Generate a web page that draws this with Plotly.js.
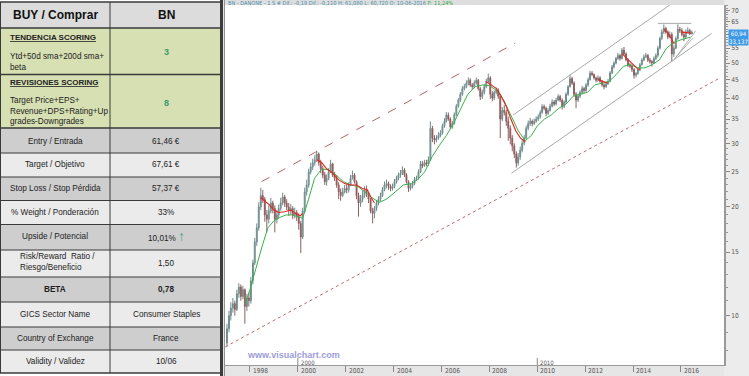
<!DOCTYPE html>
<html><head><meta charset="utf-8">
<script src="https://cdn.plot.ly/plotly-3.0.1.min.js"></script>
<style>html,body{margin:0;padding:0;overflow:hidden;background:#fff}#chart{width:749px;height:376px}</style>
</head><body><div id="chart"></div>
<script>
// ---------------- DATA (monthly candles) ----------------
const startYear = 1997;
const open = [
 8.4,9.2,10.0,10.5,10.8,10.4,11.5,12.0,11.3,11.8,10.6,11.2,
 11.0,12.5,14.0,16.0,17.5,20.0,21.5,21.0,19.0,18.5,19.5,20.5,
 19.8,18.5,19.0,19.8,20.5,21.3,20.5,20.0,19.5,19.8,19.0,19.3,
 18.8,18.0,16.5,19.5,22.0,23.0,25.0,25.8,26.5,27.0,28.0,26.5,
 25.5,24.5,23.5,24.0,25.0,26.3,24.5,24.0,23.0,22.0,21.5,22.0,
 22.5,22.3,23.0,24.0,24.5,23.5,21.5,20.5,21.0,21.5,22.3,21.8,
 21.0,19.5,19.2,19.8,20.5,21.0,21.5,22.3,23.0,23.2,22.8,22.5,
 22.8,23.5,24.0,24.5,24.8,25.3,24.5,23.5,22.5,22.8,23.2,23.8,
 24.0,25.0,26.3,26.0,26.5,26.3,27.0,33.0,31.0,30.6,31.0,31.5,
 32.0,33.5,34.5,35.9,35.0,33.3,34.0,36.0,38.0,39.5,41.0,42.5,
 43.0,44.0,44.8,43.5,43.0,44.0,44.8,42.5,40.4,41.5,43.0,44.5,
 45.5,41.0,40.0,41.5,42.0,40.5,35.0,37.0,36.5,34.5,33.0,31.0,
 29.5,28.0,26.5,27.5,28.7,30.0,31.0,33.0,34.0,34.5,34.0,34.5,
 35.0,35.5,36.5,37.9,37.5,36.3,37.0,38.0,39.0,38.5,39.5,40.4,
 39.5,37.9,39.0,41.0,43.0,45.3,44.0,41.0,39.5,40.5,41.5,42.5,
 42.0,43.5,45.0,46.9,46.5,45.5,44.8,45.5,44.5,43.5,43.0,43.8,
 44.5,47.0,48.8,50.0,51.5,52.5,51.5,54.3,53.0,51.0,49.4,49.0,
 48.0,46.3,46.8,47.9,49.5,51.0,52.0,52.5,51.0,50.5,50.0,51.5,
 52.5,55.0,58.5,61.0,62.4,61.0,59.0,60.0,53.0,55.0,58.5,62.0,
 61.5,60.0,59.0,61.0,61.5,60.2];
const high = [
 9.5,10.3,10.9,11.2,11.0,11.8,12.3,12.2,12.1,11.9,11.5,11.6,
 12.8,14.3,16.4,18.0,20.6,22.6,22.3,21.3,19.6,20.2,21.2,20.8,
 20.2,19.6,20.3,21.2,21.9,21.6,21.0,20.5,20.4,20.1,19.9,19.6,
 19.2,18.3,19.9,22.6,23.8,25.5,26.5,27.2,27.8,28.6,28.3,27.0,
 26.0,25.0,24.6,25.6,27.0,26.5,25.0,24.5,23.4,22.5,22.6,23.0,
 23.1,23.4,24.5,25.2,24.8,23.7,21.9,21.6,22.2,22.8,22.9,22.0,
 21.2,19.9,20.1,20.8,21.4,21.9,22.7,23.5,23.8,23.5,23.1,23.2,
 23.9,24.4,24.9,25.3,25.9,25.6,24.8,23.7,23.2,23.6,24.2,24.4,
 25.4,26.8,26.8,27.0,27.0,27.6,34.5,33.5,31.6,31.6,32.2,32.6,
 34.0,35.2,36.6,36.5,35.4,34.6,36.5,38.5,40.0,41.6,43.2,43.8,
 44.8,45.6,45.4,44.0,44.8,45.6,45.2,43.0,42.2,43.8,45.2,46.8,
 46.0,41.8,42.0,42.8,42.6,41.0,37.8,38.2,37.2,35.5,33.6,31.6,
 30.0,28.5,28.2,29.4,30.6,31.6,33.6,34.7,35.3,34.9,35.1,35.6,
 36.1,37.0,38.5,38.4,37.9,37.5,38.6,39.7,39.5,40.1,41.0,40.8,
 39.9,39.4,41.5,43.5,46.5,45.8,44.5,41.6,41.2,42.0,43.2,43.0,
 44.0,45.6,47.6,47.5,46.8,45.9,46.2,46.0,44.9,44.0,44.4,45.2,
 47.5,49.4,50.6,52.0,53.4,53.0,55.0,55.4,53.6,51.5,50.0,49.5,
 48.4,47.2,48.4,50.0,51.6,52.8,53.4,53.0,51.7,51.0,52.1,53.2,
 55.8,59.2,62.0,64.0,63.0,61.6,61.2,60.8,56.0,59.2,64.0,63.0,
 62.5,61.0,62.0,62.8,62.2,61.5];
const low = [
 8.2,9.0,9.7,10.2,10.0,10.3,11.2,11.0,11.1,9.5,10.3,10.6,
 10.8,12.2,13.8,15.6,17.2,19.6,20.5,18.2,17.0,18.0,19.2,19.2,
 17.0,18.0,18.6,19.5,20.2,20.0,19.6,18.9,19.0,18.5,18.6,18.3,
 17.3,14.9,16.3,19.2,21.5,22.6,24.6,25.3,26.0,26.6,26.0,24.8,
 24.0,23.0,22.9,23.7,24.8,24.2,23.6,22.6,21.0,20.8,21.3,21.8,
 21.8,21.9,22.8,23.8,23.2,21.0,18.8,20.0,20.6,21.2,21.3,20.5,
 19.2,18.0,18.6,19.5,20.2,20.7,21.3,22.1,22.5,22.3,22.1,22.2,
 22.5,23.2,23.7,24.1,24.5,24.2,23.2,22.0,22.2,22.5,23.0,23.6,
 23.8,24.8,25.6,25.8,25.9,26.0,26.8,30.2,29.8,30.2,30.7,31.2,
 31.7,33.1,34.2,34.6,32.8,32.9,33.8,35.7,37.6,39.0,40.6,42.0,
 42.6,43.4,43.0,42.2,42.6,43.6,42.0,39.5,39.8,41.0,42.6,44.0,
 39.8,39.2,39.5,41.0,39.8,31.0,34.5,35.8,33.5,30.5,29.8,28.5,
 27.3,25.7,26.0,27.0,28.3,29.6,30.7,32.6,33.5,33.4,33.7,34.2,
 34.6,35.1,36.2,37.0,35.6,35.9,36.7,37.7,38.0,38.2,39.2,39.0,
 37.2,37.5,38.6,40.6,42.8,43.5,40.4,37.5,39.0,40.0,41.0,41.3,
 41.6,43.0,44.7,46.0,45.0,44.2,44.4,44.1,43.0,42.3,42.7,43.5,
 44.2,46.6,48.3,49.6,51.0,50.8,51.2,52.5,50.6,48.8,48.4,47.2,
 45.3,45.6,46.4,47.6,49.2,50.6,51.6,50.3,49.8,48.9,49.7,51.0,
 51.8,54.5,58.0,60.2,60.3,58.2,58.5,50.5,52.0,54.6,58.0,60.6,
 59.3,57.5,58.6,60.4,59.8,60.1];
const close = [
 9.2,10.0,10.5,10.8,10.4,11.5,12.0,11.3,11.8,10.6,11.2,11.0,
 12.5,14.0,16.0,17.5,20.0,21.5,21.0,19.0,18.5,19.5,20.5,19.8,
 18.5,19.0,19.8,20.5,21.3,20.5,20.0,19.5,19.8,19.0,19.3,18.8,
 18.0,16.5,19.5,22.0,23.0,25.0,25.8,26.5,27.0,28.0,26.5,25.5,
 24.5,23.5,24.0,25.0,26.3,24.5,24.0,23.0,22.0,21.5,22.0,22.5,
 22.3,23.0,24.0,24.5,23.5,21.5,20.5,21.0,21.5,22.3,21.8,21.0,
 19.5,19.2,19.8,20.5,21.0,21.5,22.3,23.0,23.2,22.8,22.5,22.8,
 23.5,24.0,24.5,24.8,25.3,24.5,23.5,22.5,22.8,23.2,23.8,24.0,
 25.0,26.3,26.0,26.5,26.3,27.0,33.0,31.0,30.6,31.0,31.5,32.0,
 33.5,34.5,35.9,35.0,33.3,34.0,36.0,38.0,39.5,41.0,42.5,43.0,
 44.0,44.8,43.5,43.0,44.0,44.8,42.5,40.4,41.5,43.0,44.5,45.5,
 41.0,40.0,41.5,42.0,40.5,35.0,37.0,36.5,34.5,33.0,31.0,29.5,
 28.0,26.5,27.5,28.7,30.0,31.0,33.0,34.0,34.5,34.0,34.5,35.0,
 35.5,36.5,37.9,37.5,36.3,37.0,38.0,39.0,38.5,39.5,40.4,39.5,
 37.9,39.0,41.0,43.0,45.3,44.0,41.0,39.5,40.5,41.5,42.5,42.0,
 43.5,45.0,46.9,46.5,45.5,44.8,45.5,44.5,43.5,43.0,43.8,44.5,
 47.0,48.8,50.0,51.5,52.5,51.5,54.3,53.0,51.0,49.4,49.0,48.0,
 46.3,46.8,47.9,49.5,51.0,52.0,52.5,51.0,50.5,50.0,51.5,52.5,
 55.0,58.5,61.0,62.4,61.0,59.0,60.0,53.0,55.0,58.5,62.0,61.5,
 60.0,59.0,61.0,61.5,60.2,60.94];

// long moving average (green) – decimal years / values
const greenT = [1997.80,1998.00,1998.15,1998.30,1998.50,1998.75,1999.00,1999.25,1999.50,1999.75,2000.00,2000.20,2000.45,2000.70,2001.00,2001.30,2001.60,2001.90,2002.20,2002.50,2002.80,2003.10,2003.40,2003.70,2004.00,2004.40,2004.75,2005.00,2005.30,2005.60,2005.90,2006.20,2006.50,2006.80,2007.10,2007.40,2007.70,2008.00,2008.30,2008.60,2008.90,2009.20,2009.50,2009.75,2010.00,2010.30,2010.60,2010.90,2011.20,2011.50,2011.80,2012.10,2012.40,2012.70,2013.00,2013.30,2013.60,2013.90,2014.20,2014.50,2014.80,2015.10,2015.40,2015.70,2016.00,2016.40];
const greenV = [10.8,11.8,12.8,14.0,15.5,17.5,18.3,18.7,19.0,19.0,18.8,18.6,21.0,24.0,25.5,25.3,24.5,23.5,23.0,22.8,22.0,21.2,20.6,21.0,21.8,23.0,23.2,23.8,25.0,27.5,29.5,31.5,34.0,37.5,41.0,43.0,43.5,43.3,42.0,39.5,36.0,32.5,30.5,31.5,33.5,35.0,36.0,37.5,38.5,40.5,41.0,41.5,43.5,44.0,44.5,46.5,49.0,49.5,48.5,48.5,49.5,51.0,55.0,57.0,58.0,59.0];
// short moving average (red), visible segments only (null = gap)
const redT = [1998.45,1998.60,1998.80,1999.00,1999.20,1999.45,1999.70,1999.90,2000.10,2000.20,2000.5,
 2000.80,2001.00,2001.20,2001.45,2001.70,2001.95,2002.20,2002.45,2002.70,2002.90,2003.05,2003.20,2004,
 2007.85,2008.10,2008.30,2008.50,2008.70,2008.90,2009.10,2009.30,2009.50,2010,
 2012.55,2012.75,2012.95,2013.2,
 2013.55,2013.75,2013.95,2014.15,2014.30,2014.8,
 2015.30,2015.45,2015.60,2015.72,2015.85,
 2016.00,2016.20,2016.40];
const redV = [21.2,20.8,20.3,19.6,19.3,19.4,19.6,19.2,18.9,19.2,null,
 27.0,26.5,25.5,24.8,23.8,23.2,23.0,23.0,22.5,22.3,21.3,20.5,null,
 44.5,43.3,42.5,40.5,38.0,35.0,32.5,31.0,30.3,null,
 45.0,44.5,44.0,null,
 53.0,51.5,50.0,48.5,47.8,null,
 62.0,60.5,58.5,56.5,null,
 61.0,60.8,60.5];

// trend lines [startYear, endYear], [startPrice, endPrice]
const upperDashT = [1998.49, 2009.08], upperDashV = [23.5, 56.8];
const lowerDotT  = [1996.97, 2017.61], lowerDotV  = [8.2, 45.4];
const chanTopT   = [2008.99, 2015.55], chanTopV   = [35.9, 72.5];
const chanBotT   = [2008.93, 2017.28], chanBotV   = [24.8, 60.4];
const resistT    = [2015.04, 2016.44], resistV    = [64.4, 64.4];
const wedge1T    = [2015.70, 2016.62], wedge1V    = [51.0, 61.4];
const wedge2T    = [2015.78, 2016.50], wedge2V    = [51.8, 58.6];

const xTickYears = [1998,2000,2002,2004,2006,2008,2010,2012,2014,2016];
const xTickText  = ['1998','2000','2002','2004','2006','2008','2010','2012','2014','2016'];
const yTicks = [10,15,20,25,30,35,40,45,50,55,60,65,70];
const yTickText = ['10','15','20','25','30','35','40','45','50','55','','65','70'];
const lastLabel = ['60,94','33,137'];
const statusText = 'BN - DANONE - 1 S # Dif.: -0,18 Dif.: -0,110 H: 61,080 L: 60,720 O: 10-06-2016';
const statusPct = 'P: 11,24%';

const headerLabels = ['BUY / Comprar','BN'];
const scoringTitles = ['TENDENCIA SCORING','REVISIONES SCORING'];
const scoringTexts = ['Ytd+50d sma+200d sma+<br>beta','Target Price+EPS+<br>Revenue+DPS+Rating+Up<br>grades-Downgrades'];
const scoringValues = ['3','8'];
const rowLabels = ['Entry / Entrada','Target / Objetivo','Stop Loss / Stop Pérdida','% Weight / Ponderación','Upside / Potencial','Risk/Reward  Ratio /<br>Riesgo/Beneficio','BETA','GICS Sector Name','Country of Exchange','Validity / Validez'];
const rowValues = ['61,46 €','67,61 €','57,37 €','33%','10,01%','1,50','0,78','Consumer Staples','France','10/06'];

// ---------------- helpers ----------------
const W = 749, H = 376;
const FONT = 'Liberation Sans, Arial, sans-serif';
const NARROW = 'Liberation Sans Narrow, DejaVu Sans Condensed, sans-serif';
const P = x => x / W, Q = y => 1 - y / H;
function dy(t){ const y=Math.floor(t); const ms=Date.UTC(y,0,1)+(t-y)*365.25*86400000; return new Date(ms).toISOString().slice(0,10); }
const months = close.map((_,i)=>{ const y=startYear+Math.floor(i/12), m=i%12+1; return y+'-'+String(m).padStart(2,'0')+'-15'; });

const shapes = [], anns = [];
function rect(x0,y0,x1,y1,fill,layer){ shapes.push({type:'rect',xref:'paper',yref:'paper',x0:P(x0),x1:P(x1),y0:Q(y1),y1:Q(y0),fillcolor:fill,line:{width:0},layer:layer||'below'}); }
function line(x0,y0,x1,y1,color,w){ shapes.push({type:'line',xref:'paper',yref:'paper',x0:P(x0),x1:P(x1),y0:Q(y0),y1:Q(y1),line:{color:color,width:w||1},layer:'below'}); }
function txt(x,y,text,o){ anns.push(Object.assign({xref:'paper',yref:'paper',x:P(x),y:Q(y),text:text,showarrow:false,xanchor:'center',yanchor:'middle',align:'center',font:{family:FONT,size:8.2,color:'#222'}},o||{})); }

// ---------------- table ----------------
const rowB = [2,28,74.5,128,153,177,200.5,224.5,250,277,302,327,350,373];
const rowFill = ['#dcdcdc','#d7e0b3','#d7e0b3','#cecece','#ebebeb','#cecece','#ebebeb','#cecece','#ebebeb','#cecece','#ebebeb','#cecece','#ebebeb'];
for (let i=0;i<rowFill.length;i++) rect(0,rowB[i],221,rowB[i+1],rowFill[i]);
for (let i=0;i<rowB.length;i++) line(0,rowB[i],221,rowB[i],'#3a3a3a',(i<=3||i==rowB.length-1)?1.4:1);
line(0.5,rowB[0],0.5,rowB[rowB.length-1],'#3a3a3a',1);
line(110,rowB[0],110,rowB[rowB.length-1],'#3a3a3a',1);
rect(220,0,223,376,'#3c3c3c');
line(224.3,0,224.3,376,'#777',1);

txt(55,15,'<b>'+headerLabels[0]+'</b>',{font:{family:FONT,size:12,color:'#111'}});
txt(166,15,'<b>'+headerLabels[1]+'</b>',{font:{family:FONT,size:12,color:'#111'}});
txt(8,37,'<b><u>'+scoringTitles[0]+'</u></b>',{xanchor:'left',font:{family:FONT,size:8,color:'#222'}});
txt(8,62,scoringTexts[0],{xanchor:'left',align:'left'});
txt(166,51.7,'<b>'+scoringValues[0]+'</b>',{font:{family:FONT,size:9,color:'#3c9a70'}});
txt(8,82,'<b><u>'+scoringTitles[1]+'</u></b>',{xanchor:'left',font:{family:FONT,size:8,color:'#222'}});
txt(8,111,scoringTexts[1],{xanchor:'left',align:'left'});
txt(166,103.3,'<b>'+scoringValues[1]+'</b>',{font:{family:FONT,size:9,color:'#3c9a70'}});
const rowYc = [141,164.5,188.5,212.3,236.5,262,289.5,314,338.5,361.7];
rowLabels.forEach((lab,i)=>{
  const bold = lab==='BETA';
  if (i===5) txt(18,rowYc[i],lab,{xanchor:'left',align:'left'});
  else txt(55,rowYc[i],bold?'<b>'+lab+'</b>':lab);
  let v = rowValues[i];
  if (bold) v = '<b>'+v+'</b>';
  if (i===4) v = v+' <span style="color:#4fa58a;font-size:14px">↑</span>';
  txt(166,i===5?263.3:(i===4?235.5:rowYc[i]),v);
});

// ---------------- chart frame ----------------
rect(225,0,749,5,'#dedede');
rect(225,365,749,376,'#e6e6e6');
rect(724,0,749,376,'#ececec');
anns.push({xref:'paper',yref:'paper',x:P(226),y:Q(2.6),xanchor:'left',yanchor:'middle',showarrow:false,
  text:'<span style="color:#4a8fae">'+statusText+'</span> <span style="color:#2ea84a">'+statusPct+'</span>',
  font:{family:NARROW,size:5.6,color:'#4a8fae'}});
xTickYears.forEach((yr,i)=>{
  anns.push({xref:'x',yref:'paper',x:yr+'-01-01',y:Q(371),xanchor:'left',yanchor:'middle',xshift:1,showarrow:false,text:xTickText[i],font:{family:NARROW,size:6.6,color:'#555'}});
});
[2000,2010].forEach(yr=>{
  anns.push({xref:'x',yref:'paper',x:yr+'-01-01',y:Q(362),xanchor:'left',yanchor:'middle',xshift:1,showarrow:false,text:String(yr),font:{family:NARROW,size:6,color:'#555'}});
  shapes.push({type:'line',xref:'x',yref:'paper',x0:yr+'-01-01',x1:yr+'-01-01',y0:Q(365),y1:Q(358),line:{color:'#888',width:1}});
});
txt(293,355,'<b>www.visualchart.com</b>',{font:{family:FONT,size:9,color:'#9d9ddb'}});
anns.push({xref:'paper',yref:'y',x:P(727.5),y:Math.log10(close[close.length-1]),xanchor:'left',yanchor:'top',yshift:3,showarrow:false,
  text:lastLabel.join('<br>'),bgcolor:'#3d9ae6',borderpad:0,font:{family:NARROW,size:6,color:'#fff'}});

const minorTicks=[];
for(let v=8; v<=72; v++) if(!yTicks.includes(v)) minorTicks.push(v);

// ---------------- traces ----------------
const ln = (t,v,color,dash,w)=>({type:'scatter',mode:'lines',x:t.map(dy),y:v,line:{color:color,width:w||1,dash:dash||'solid'},hoverinfo:'skip',connectgaps:false});
const traces = [
  {type:'candlestick',x:months,open:open,high:high,low:low,close:close,
   increasing:{line:{color:'#6d8b8b',width:1},fillcolor:'#a9bdbd'},
   decreasing:{line:{color:'#8e6060',width:1},fillcolor:'#cf2424'},hoverinfo:'skip'},
  ln(greenT,greenV,'#39b24a','solid',1),
  ln(redT,redV,'#e3241f','solid',1.1),
  ln(upperDashT,upperDashV,'#b46464','dash',1),
  ln(lowerDotT,lowerDotV,'#c46a6a','dot',1),
  ln(chanTopT,chanTopV,'#a8a8a8','solid',1),
  ln(chanBotT,chanBotV,'#a8a8a8','solid',1),
  ln(resistT,resistV,'#a8a8a8','solid',1),
  ln(wedge1T,wedge1V,'#b0b0b0','solid',1),
  ln(wedge2T,wedge2V,'#b0b0b0','solid',1)
];

const layout = {
  width:W,height:H,margin:{l:0,r:0,t:0,b:0},paper_bgcolor:'#ffffff',plot_bgcolor:'#ffffff',showlegend:false,
  xaxis:{type:'date',domain:[P(225),P(724)],range:['1996-12-16','2017-10-19'],rangeslider:{visible:false},
    tickvals:xTickYears.map(y=>y+'-01-01'),showticklabels:false,ticks:'outside',ticklen:6,tickcolor:'#888',
    showline:true,linecolor:'#9a9a9a',linewidth:1,showgrid:false,zeroline:false,fixedrange:true},
  yaxis:{type:'log',domain:[Q(365),Q(5)],range:[0.8636,1.8597],side:'right',anchor:'x',
    tickvals:yTicks,ticktext:yTickText,ticks:'outside',ticklen:4,tickcolor:'#888',
    tickfont:{family:NARROW,size:6.6,color:'#555'},showline:true,linecolor:'#9a9a9a',linewidth:2,
    showgrid:false,zeroline:false,fixedrange:true,
    minor:{tickvals:minorTicks,ticks:'outside',ticklen:2,tickcolor:'#999',showgrid:false}},
  shapes:shapes,annotations:anns
};
Plotly.newPlot('chart',traces,layout,{staticPlot:true,displayModeBar:false});
</script></body></html>
